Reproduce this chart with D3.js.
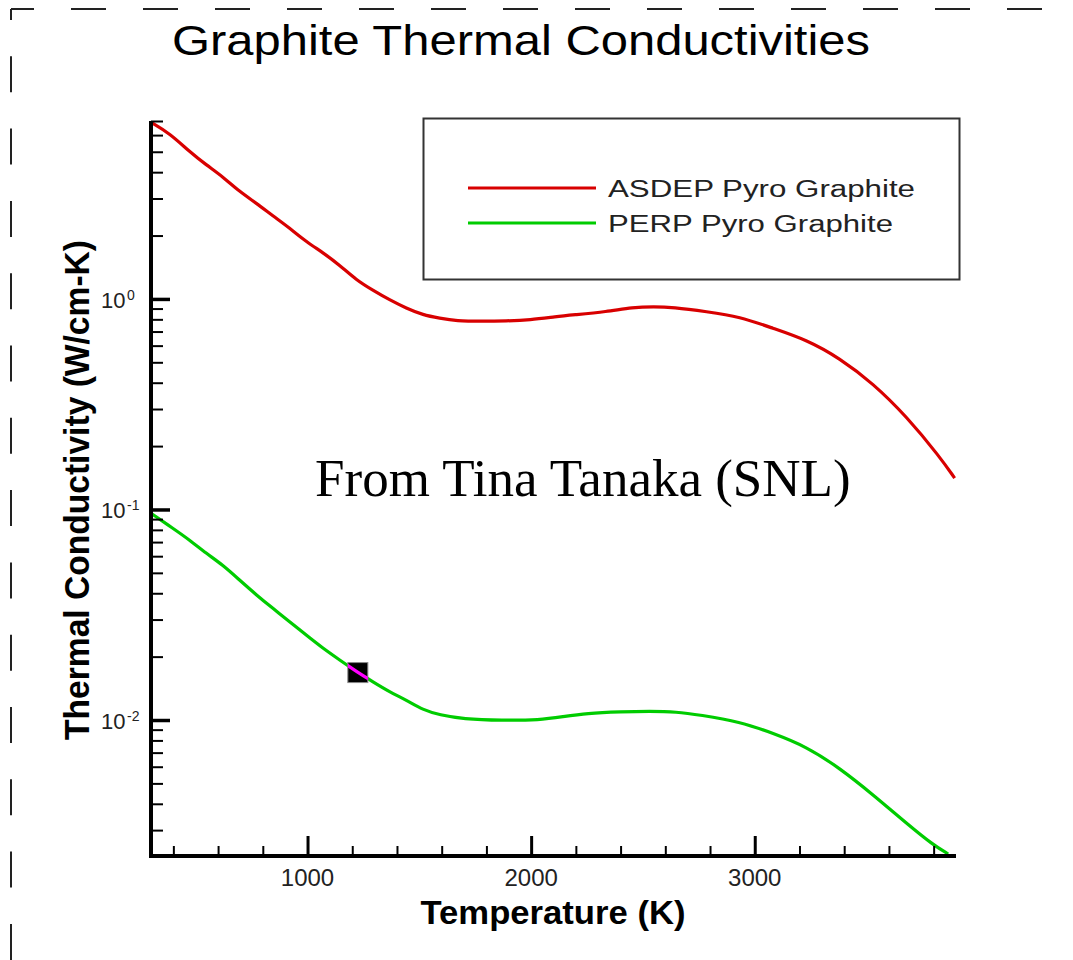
<!DOCTYPE html>
<html>
<head>
<meta charset="utf-8">
<script src="https://cdn.jsdelivr.net/npm/d3@7"></script>
<style>
  body { margin: 0; background: #fff; }
  svg { display: block; font-family: "Liberation Sans", Arial, sans-serif; }
</style>
</head>
<body>
<svg id="chart" width="1073" height="960"></svg>
<script>
// ASDEP pyro graphite, K in W/cm-K
const asdepTemp = [300, 383, 472, 547, 621, 696, 771, 845, 920, 994, 1069, 1143, 1218, 1292, 1367, 1442, 1516, 1591, 1666, 1780, 1889, 1994, 2113, 2186, 2338, 2454, 2550, 2633, 2785, 2933, 3080, 3233, 3380, 3528, 3680, 3827, 3894];
const asdepK = [6.9, 6.12, 5.01, 4.33, 3.81, 3.23, 2.85, 2.48, 2.17, 1.87, 1.66, 1.45, 1.23, 1.10, 0.989, 0.903, 0.839, 0.810, 0.786, 0.783, 0.786, 0.795, 0.824, 0.839, 0.870, 0.913, 0.920, 0.913, 0.870, 0.824, 0.726, 0.639, 0.523, 0.398, 0.276, 0.178, 0.141];

// PERP pyro graphite
const perpTemp = [300, 398, 472, 547, 621, 696, 771, 845, 920, 994, 1069, 1143, 1222, 1292, 1367, 1442, 1516, 1591, 1695, 1870, 2038, 2142, 2247, 2404, 2530, 2650, 2754, 2933, 3082, 3232, 3381, 3530, 3679, 3798, 3865];
const perpK = [0.0959, 0.0814, 0.0717, 0.0619, 0.0545, 0.0462, 0.0393, 0.0339, 0.0293, 0.0253, 0.0219, 0.0193, 0.0169, 0.0152, 0.0136, 0.01244, 0.01116, 0.01057, 0.01011, 0.00995, 0.0100, 0.01037, 0.01076, 0.01094, 0.01100, 0.01094, 0.01057, 0.00982, 0.00865, 0.00747, 0.00590, 0.00441, 0.00323, 0.00255, 0.00231];

const seriesNames = ['ASDEP Pyro Graphite', 'PERP Pyro Graphite'];
const seriesColors = ['#d80000', '#00cc00'];

const xDomain = [300, 3900];
const yDomain = [0.00226, 7];
const xMajorTicks = [1000, 2000, 3000];
const yMajorTicks = [1, 0.1, 0.01];
const yTickExponents = ['0', '-1', '-2'];

// boxed probe point on the PERP curve
const probeTemp = 1225;
const probeK = 0.0168;

const svg = d3.select('#chart');

svg.append('rect').attr('width', 1073).attr('height', 960).attr('fill', '#fff');

// dashed page border (top and left only)
svg.append('line')
  .attr('x1', 11).attr('y1', 9).attr('x2', 1073).attr('y2', 9)
  .attr('stroke', '#222').attr('stroke-width', 2)
  .attr('stroke-dasharray', '35 37').attr('stroke-dashoffset', 12);
svg.append('line')
  .attr('x1', 11).attr('y1', 9).attr('x2', 11).attr('y2', 960)
  .attr('stroke', '#222').attr('stroke-width', 2)
  .attr('stroke-dasharray', '36 36.3').attr('stroke-dashoffset', 25);

const x = d3.scaleLinear().domain(xDomain).range([151, 956]);
const y = d3.scaleLog().domain(yDomain).range([856, 121]);

// title
svg.append('text')
  .attr('x', 521).attr('y', 55)
  .attr('text-anchor', 'middle')
  .attr('font-size', 43)
  .attr('textLength', 698).attr('lengthAdjust', 'spacingAndGlyphs')
  .text('Graphite Thermal Conductivities');

// curves
svg.append('clipPath').attr('id', 'plot-clip')
  .append('rect').attr('x', 151).attr('y', 119).attr('width', 808).attr('height', 740);

const series = [
  { name: seriesNames[0], color: seriesColors[0], points: asdepTemp.map((t, i) => [t, asdepK[i]]) },
  { name: seriesNames[1], color: seriesColors[1], points: perpTemp.map((t, i) => [t, perpK[i]]) },
];

const line = d3.line()
  .x(d => x(d[0]))
  .y(d => y(d[1]))
  .curve(d3.curveBasis);

svg.append('g').attr('clip-path', 'url(#plot-clip)')
  .selectAll('path')
  .data(series)
  .join('path')
  .attr('d', d => line(d.points))
  .attr('fill', 'none')
  .attr('stroke', d => d.color)
  .attr('stroke-width', 3.2)
  .attr('stroke-linejoin', 'round');

// probe box, with the curve inside it shown in magenta
const px = x(probeTemp), py = y(probeK), half = 10;
svg.append('rect')
  .attr('x', px - half).attr('y', py - half)
  .attr('width', half * 2).attr('height', half * 2)
  .attr('fill', '#000').attr('stroke', '#888').attr('stroke-width', 1);
svg.append('clipPath').attr('id', 'probe-clip')
  .append('rect').attr('x', px - half).attr('y', py - half)
  .attr('width', half * 2).attr('height', half * 2);
svg.append('path')
  .attr('clip-path', 'url(#probe-clip)')
  .attr('d', line(series[1].points))
  .attr('fill', 'none').attr('stroke', '#ff00ff').attr('stroke-width', 3.2);

// axes: ticks point inward
const xMinor = d3.range(400, 3900, 200).filter(d => d % 1000 !== 0);
const yMinor = y.ticks().filter(d => !yMajorTicks.includes(d));

const axisStyle = (g, w) => {
  g.selectAll('.tick line').attr('stroke', '#000').attr('stroke-width', w);
  g.select('.domain').remove();
};

svg.append('g').attr('transform', 'translate(0,856)')
  .call(d3.axisBottom(x).tickValues(xMinor).tickSize(-10).tickFormat(''))
  .call(g => axisStyle(g, 2));
svg.append('g').attr('transform', 'translate(0,856)')
  .call(d3.axisBottom(x).tickValues(xMajorTicks).tickSize(-20).tickFormat(''))
  .call(g => axisStyle(g, 3));
svg.append('g').attr('transform', 'translate(151,0)')
  .call(d3.axisLeft(y).tickValues(yMinor).tickSize(-12).tickFormat(''))
  .call(g => axisStyle(g, 2));
svg.append('g').attr('transform', 'translate(151,0)')
  .call(d3.axisLeft(y).tickValues(yMajorTicks).tickSize(-19).tickFormat(''))
  .call(g => axisStyle(g, 3.5));

// axis lines
svg.append('line')
  .attr('x1', 151).attr('x2', 151).attr('y1', y.range()[1]).attr('y2', y.range()[0] + 2)
  .attr('stroke', '#000').attr('stroke-width', 4);
svg.append('line')
  .attr('x1', 149).attr('x2', x.range()[1]).attr('y1', 856).attr('y2', 856)
  .attr('stroke', '#000').attr('stroke-width', 4);

// tick labels
svg.append('g').selectAll('text')
  .data(xMajorTicks)
  .join('text')
  .attr('x', d => x(d)).attr('y', 886)
  .attr('text-anchor', 'middle')
  .attr('font-size', 24).attr('fill', '#222')
  .text(d => d);

const yLabels = svg.append('g').selectAll('g')
  .data(yMajorTicks)
  .join('g')
  .attr('transform', d => `translate(0,${y(d)})`);
yLabels.append('text')
  .attr('x', 101).attr('y', 9)
  .attr('font-size', 22).attr('fill', '#222')
  .text('10');
yLabels.append('text')
  .attr('x', 127).attr('y', 1)
  .attr('font-size', 14).attr('fill', '#222')
  .text((d, i) => yTickExponents[i]);

// axis titles
svg.append('text')
  .attr('x', 553).attr('y', 924)
  .attr('text-anchor', 'middle')
  .attr('font-size', 33).attr('font-weight', 'bold')
  .attr('textLength', 265).attr('lengthAdjust', 'spacingAndGlyphs')
  .text('Temperature (K)');
svg.append('text')
  .attr('transform', 'translate(89,490) rotate(-90)')
  .attr('text-anchor', 'middle')
  .attr('font-size', 35).attr('font-weight', 'bold')
  .attr('textLength', 500).attr('lengthAdjust', 'spacingAndGlyphs')
  .text('Thermal Conductivity (W/cm-K)');

// legend
const legend = svg.append('g');
legend.append('rect')
  .attr('x', 423.5).attr('y', 118.5).attr('width', 536).attr('height', 161)
  .attr('fill', '#fff').attr('stroke', '#333').attr('stroke-width', 2);
const legendRows = legend.selectAll('g.row')
  .data(series)
  .join('g').attr('class', 'row')
  .attr('transform', (d, i) => `translate(0,${188 + i * 35})`);
legendRows.append('line')
  .attr('x1', 468).attr('x2', 596)
  .attr('stroke', d => d.color).attr('stroke-width', 3.2);
legendRows.append('text')
  .attr('x', 608).attr('y', 9)
  .attr('font-size', 23).attr('fill', '#222')
  .attr('textLength', (d, i) => i === 0 ? 307 : 285).attr('lengthAdjust', 'spacingAndGlyphs')
  .text(d => d.name);

// annotation
svg.append('text')
  .attr('x', 315).attr('y', 496)
  .attr('font-family', '"Liberation Serif", "Times New Roman", serif')
  .attr('font-size', 53)
  .text('From Tina Tanaka (SNL)');
</script>
</body>
</html>
